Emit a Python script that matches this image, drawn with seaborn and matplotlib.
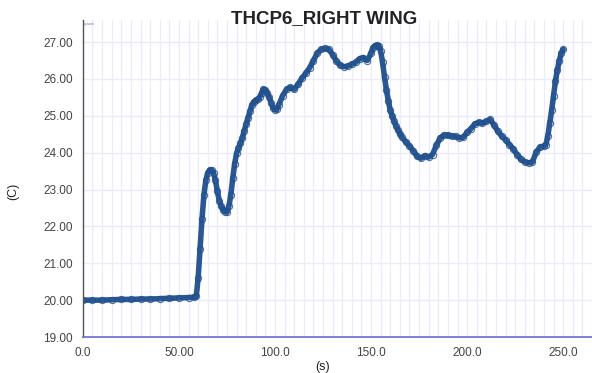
import numpy as np
import pandas as pd
import matplotlib
matplotlib.use('Agg')
import matplotlib.pyplot as plt
import seaborn as sns
from matplotlib.ticker import MultipleLocator

# Data (time in s, temperature in C)
time_s = [0, 5, 10, 15, 20, 25, 30, 35, 40, 45, 50, 55, 58, 59,
          60, 61, 62, 63, 64, 65, 66, 67, 68, 69, 70, 71, 72, 73, 74, 75,
          76, 77, 78, 79, 80, 81, 82, 83, 84, 85, 86, 87, 88, 89, 90,
          91, 92, 93, 94, 95, 96, 97, 98, 99, 100, 101, 102, 104, 106, 108,
          110, 112, 114, 116, 118, 120, 122, 124, 126, 128, 130, 132, 134,
          136, 138, 140, 142, 144, 146, 148, 150, 151, 152, 153, 154, 155,
          156, 157, 158, 159, 160, 161, 162, 163, 164, 165, 166, 168, 170,
          172, 174, 176, 178, 180, 182, 184, 186, 188, 190, 192, 194, 196,
          198, 200, 202, 204, 206, 208, 210, 212, 214, 216, 218, 220, 222,
          224, 226, 228, 230, 232, 234, 236, 238, 240, 241, 242, 243, 244,
          245, 246, 247, 248, 249, 250]
temp_c = [20.00, 20.00, 20.00, 20.01, 20.02, 20.02, 20.03, 20.03, 20.04, 20.05,
          20.06, 20.07, 20.08, 20.10,
          20.60, 21.40, 22.20, 22.85, 23.25, 23.45, 23.53, 23.53, 23.45, 23.25,
          22.95, 22.70, 22.55, 22.45, 22.40, 22.39,
          22.55, 22.85, 23.30, 23.70, 23.98, 24.12, 24.25, 24.40, 24.60, 24.78,
          24.95, 25.12, 25.30, 25.38, 25.42,
          25.45, 25.50, 25.62, 25.72, 25.70, 25.62, 25.50, 25.35, 25.22, 25.16,
          25.18, 25.30, 25.55, 25.72, 25.77,
          25.72, 25.85, 26.02, 26.15, 26.30, 26.50, 26.70, 26.80, 26.83, 26.80,
          26.66, 26.48, 26.37,
          26.33, 26.35, 26.40, 26.45, 26.55, 26.58, 26.50, 26.70, 26.85, 26.90,
          26.92, 26.90, 26.75,
          26.45, 26.05, 25.70, 25.40, 25.15, 25.00, 24.85, 24.72, 24.62, 24.52,
          24.42, 24.30, 24.18,
          24.05, 23.90, 23.85, 23.92, 23.88, 23.95, 24.20, 24.40, 24.48, 24.47,
          24.45, 24.44, 24.40,
          24.42, 24.55, 24.65, 24.78, 24.82, 24.80, 24.85, 24.90, 24.75, 24.58,
          24.45, 24.35, 24.22,
          24.10, 23.95, 23.82, 23.75, 23.72, 23.75, 24.02, 24.15, 24.18, 24.22,
          24.45, 24.80, 25.15,
          25.55, 25.95, 26.25, 26.50, 26.70, 26.80]

y_ticks = [19, 20, 21, 22, 23, 24, 25, 26, 27]
x_ticks = [0, 50, 100, 150, 200, 250]
x_tick_labels = ['0.0', '50.00', '100.0', '150.0', '200.0', '250.0']

df = pd.DataFrame({'time': time_s, 'temp': temp_c})

sns.set_style('white')
plt.rcParams['font.family'] = ['Liberation Sans', 'DejaVu Sans']

line_color = '#1f4f8c'
grid_color = '#ebebfb'

fig = plt.figure(figsize=(5.92, 3.73), dpi=100)
ax = fig.add_axes([0.140, 0.0965, 0.860, 0.850])

# thick band under the open circle markers
sns.lineplot(data=df, x='time', y='temp', ax=ax, color=line_color,
             linewidth=4.0, alpha=0.95)
sns.lineplot(data=df, x='time', y='temp', ax=ax, color=line_color,
             linewidth=0, marker='o', markersize=4.5, markerfacecolor='none',
             markeredgecolor=line_color, markeredgewidth=0.8, alpha=0.8)

ax.set_xlim(0, 265)
ax.set_ylim(19, 27.6)
ax.set_xticks(x_ticks)
ax.set_xticklabels(x_tick_labels)
ax.set_yticks(y_ticks)
ax.set_yticklabels([f'{v:.2f}' for v in y_ticks])
ax.xaxis.set_minor_locator(MultipleLocator(5))

ax.grid(True, which='major', axis='y', color=grid_color, linewidth=1.0)
ax.grid(True, which='both', axis='x', color=grid_color, linewidth=0.9)
ax.set_axisbelow(True)

for side in ['top', 'right']:
    ax.spines[side].set_visible(False)
ax.spines['left'].set_color('#555555')
ax.spines['left'].set_linewidth(1.0)
ax.spines['bottom'].set_color('#6a6ad0')
ax.spines['bottom'].set_linewidth(1.2)

ax.tick_params(axis='both', which='major', direction='inout', length=7,
               width=1.0, labelsize=8.5)
ax.tick_params(axis='y', colors='#555555', labelcolor='#444444')
ax.tick_params(axis='x', colors='#333355', labelcolor='#444444', pad=4)
ax.tick_params(axis='x', which='minor', length=0)

ax.set_xlabel('(s)', fontsize=9, color='#222222')
ax.xaxis.set_label_coords(0.47, -0.075)
ax.set_ylabel('(C)', fontsize=9, color='#222222')
ax.yaxis.set_label_coords(-0.125, 0.46)

fig.text(0.548, 0.972, 'THCP6_RIGHT WING', ha='center', va='top',
         fontsize=13.5, fontweight='bold', color='#222222')
ax.text(0.003, 0.995, 'y-axis', transform=ax.transAxes, fontsize=3,
        color='#6a6ad0', va='top')

fig.savefig('out.png', dpi=100)
